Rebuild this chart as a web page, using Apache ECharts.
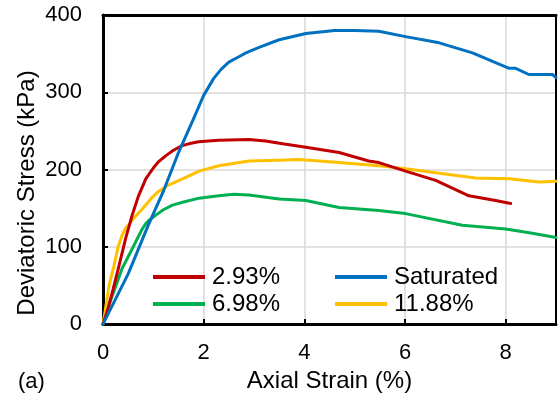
<!DOCTYPE html>
<html>
<head>
<meta charset="utf-8">
<script src="https://cdn.jsdelivr.net/npm/echarts@6/dist/echarts.min.js"></script>
<style>html,body{margin:0;padding:0;background:#fff}#c{width:558px;height:398px}</style>
</head>
<body>
<div id="c"></div>
<script>
const xTicks = [0, 2, 4, 6, 8];
const yTicks = [0, 100, 200, 300, 400];

const redX = [0, 0.1, 0.2, 0.32, 0.45, 0.58, 0.7, 0.85, 1.0, 1.1, 1.25, 1.4, 1.57, 1.75, 1.9, 2.3, 2.9, 3.23, 3.6, 4.03, 4.69, 5.28, 5.48, 6.01, 6.61, 7.27, 7.8, 8.1];
const redY = [0, 20, 45, 76, 111, 141, 165, 188, 202, 210, 218, 225, 231, 234, 236, 238, 239, 237, 233, 229, 222, 211, 209, 198, 186, 166, 160, 156];

const blueX = [0, 0.5, 0.9, 1.2, 1.5, 1.8, 2.0, 2.1, 2.2, 2.35, 2.5, 2.7, 2.84, 3.1, 3.5, 4.03, 4.6, 5.0, 5.48, 6.01, 6.68, 7.34, 7.74, 8.07, 8.2, 8.46, 8.93, 9.0];
const blueY = [0, 65, 128, 172, 222, 266, 296, 307, 318, 330, 339, 346, 351, 358, 368, 376, 380, 380, 379, 372, 364, 351, 340, 331, 331, 323, 323, 319];

const greenX = [0, 0.12, 0.38, 0.6, 0.7, 0.78, 0.85, 0.91, 1.05, 1.2, 1.38, 1.6, 1.91, 2.3, 2.6, 2.9, 3.5, 4.03, 4.69, 5.48, 6.01, 7.14, 8.0, 8.5, 9.0];
const greenY = [0, 25, 72, 100, 113, 123, 130, 134, 141, 148, 154, 158, 163, 166, 168, 167, 162, 160, 151, 147, 143, 128, 123, 118, 112];

const yellowX = [0, 0.05, 0.12, 0.22, 0.3, 0.38, 0.45, 0.55, 0.65, 0.78, 0.95, 1.11, 1.3, 1.58, 1.91, 2.3, 2.9, 3.5, 3.9, 4.69, 5.48, 6.01, 6.61, 7.4, 8.07, 8.66, 9.0];
const yellowY = [0, 20, 50, 76, 100, 115, 124, 132, 140, 149, 162, 172, 180, 188, 198, 205, 211, 212, 213, 209, 205, 201, 196, 189, 188, 184, 185];

const names = ['2.93%', 'Saturated', '6.98%', '11.88%'];
const colors = ['#C00000', '#0070C0', '#00B050', '#FFC000'];

function pairs(xs, ys) { return xs.map((x, i) => [x, ys[i]]); }

const FONT = 'Liberation Sans, Arial, sans-serif';
const chart = echarts.init(document.getElementById('c'), null, {renderer: 'canvas'});

const mk = (name, xs, ys, color, z) => ({
  name, type: 'line', data: pairs(xs, ys), showSymbol: false, smooth: false,
  lineStyle: {color, width: 3, join: 'round', cap: 'round'}, itemStyle: {color}, z, animation: false
});

const legendText = {fontFamily: FONT, fontSize: 24, color: '#000', padding: [0, 0, 0, 2]};

chart.setOption({
  animation: false,
  grid: {left: 103, top: 15, right: 2, bottom: 72, show: false},
  legend: [
    {data: ['2.93%', '6.98%'], orient: 'vertical', left: 153, top: 265, padding: 0, itemGap: 3,
     itemWidth: 52, itemHeight: 4, icon: 'rect', textStyle: legendText},
    {data: ['Saturated', '11.88%'], orient: 'vertical', left: 335, top: 265, padding: 0, itemGap: 3,
     itemWidth: 52, itemHeight: 4, icon: 'rect', textStyle: legendText}
  ],
  xAxis: [
    {type: 'value', min: xTicks[0], max: 9, interval: 2, position: 'bottom',
     name: 'Axial Strain (%)', nameLocation: 'middle', nameGap: 42,
     nameTextStyle: {fontFamily: FONT, fontSize: 24, color: '#000'},
     axisLine: {show: true, onZero: false, lineStyle: {color: '#000', width: 3}},
     axisTick: {show: true, inside: true, length: 5, lineStyle: {color: '#000', width: 2}},
     axisLabel: {fontFamily: FONT, fontSize: 22, color: '#000', margin: 18, showMaxLabel: false},
     splitLine: {show: true, lineStyle: {color: '#d9d9d9', width: 1.5}}},
    {type: 'value', min: 0, max: 9, position: 'top',
     axisLine: {show: true, onZero: false, lineStyle: {color: '#000', width: 3}},
     axisTick: {show: false}, axisLabel: {show: false}, splitLine: {show: false}}
  ],
  yAxis: [
    {type: 'value', min: yTicks[0], max: 400, interval: 100,
     axisLine: {show: true, onZero: false, lineStyle: {color: '#000', width: 3}},
     axisTick: {show: true, inside: true, length: 5, lineStyle: {color: '#000', width: 2}},
     axisLabel: {fontFamily: FONT, fontSize: 22, color: '#000', margin: 21},
     splitLine: {show: true, lineStyle: {color: '#d9d9d9', width: 1.5}}},
    {type: 'value', min: 0, max: 400, position: 'right',
     axisLine: {show: true, onZero: false, lineStyle: {color: '#000', width: 2}},
     axisTick: {show: false}, axisLabel: {show: false}, splitLine: {show: false}}
  ],
  graphic: [
    {type: 'text', x: 27, y: 193, rotation: Math.PI / 2,
     style: {text: 'Deviatoric Stress (kPa)', fontFamily: FONT, fontSize: 24, fill: '#000', align: 'center', verticalAlign: 'middle'}},
    {type: 'text', x: 18, y: 382,
     style: {text: '(a)', fontFamily: FONT, fontSize: 22, fill: '#000', align: 'left', verticalAlign: 'middle'}}
  ],
  series: [
    mk(names[2], greenX, greenY, colors[2], 2),
    mk(names[3], yellowX, yellowY, colors[3], 3),
    mk(names[0], redX, redY, colors[0], 4),
    mk(names[1], blueX, blueY, colors[1], 5)
  ]
});
</script>
</body>
</html>
